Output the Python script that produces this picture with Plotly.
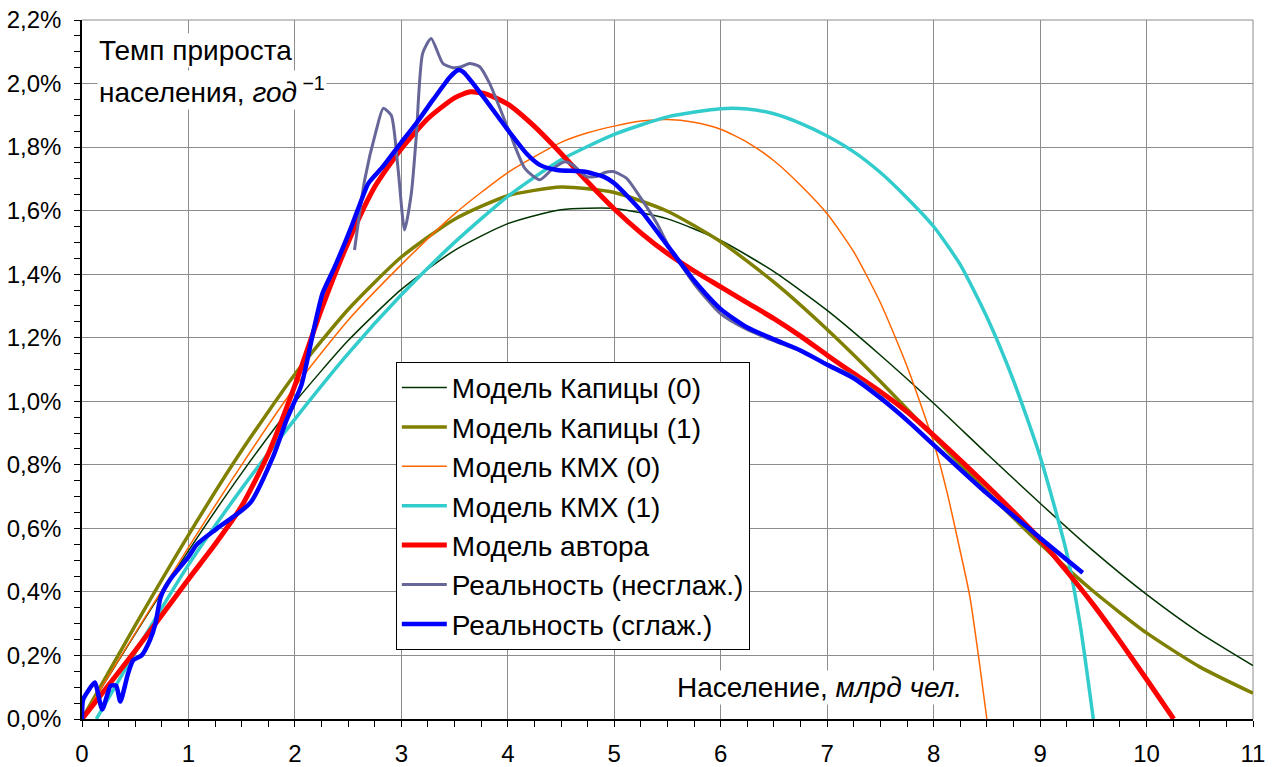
import plotly.graph_objects as go

# ---------------- data ----------------
kap0_x = [0, 0.5, 1, 1.5, 2, 2.5, 3, 3.5, 4, 4.5, 5, 5.5, 6, 6.5, 7, 7.5, 8, 8.5, 9, 9.5, 10, 10.5, 11]
kap0_y = [0, 0.268, 0.529, 0.774, 0.997, 1.191, 1.352, 1.475, 1.559, 1.603, 1.607, 1.574, 1.506, 1.408,
          1.286, 1.145, 0.994, 0.835, 0.679, 0.529, 0.392, 0.271, 0.168]

kap1_x = [0, 0.5, 1, 1.5, 2, 2.5, 3, 3.5, 4, 4.5, 5, 5.5, 6, 6.5, 7, 7.5, 8, 8.5, 9, 9.5, 10, 10.5, 11]
kap1_y = [0, 0.295, 0.579, 0.845, 1.085, 1.289, 1.454, 1.573, 1.647, 1.674, 1.657, 1.598, 1.502, 1.375,
          1.226, 1.062, 0.888, 0.716, 0.552, 0.402, 0.271, 0.164, 0.081]

kmh0_x = [0, 0.5, 1.0, 1.5, 2.0, 2.5, 3.0, 3.5, 4.0, 4.5, 4.75, 5.0, 5.25, 5.5, 5.75, 6.0, 6.25, 6.5,
          6.75, 7.0, 7.25, 7.5, 7.75, 8.0, 8.12, 8.24, 8.34, 8.43, 8.5]
kmh0_y = [0, 0.27, 0.54, 0.80, 1.045, 1.255, 1.43, 1.59, 1.72, 1.815, 1.845, 1.866, 1.882, 1.887, 1.878,
          1.856, 1.815, 1.757, 1.68, 1.59, 1.47, 1.31, 1.11, 0.87, 0.722, 0.543, 0.386, 0.177, 0.0]

kmh1_x = [0.135, 0.5, 1.0, 1.5, 2.0, 2.5, 3.0, 3.5, 4.0, 4.5, 5.0, 5.5, 6.0, 6.25, 6.5, 6.75, 7.0, 7.25,
          7.5, 7.75, 8.0, 8.25, 8.5, 8.75, 9.0, 9.25, 9.375, 9.5]
kmh1_y = [0, 0.21, 0.485, 0.725, 0.944, 1.15, 1.335, 1.50, 1.645, 1.76, 1.84, 1.895, 1.921, 1.92, 1.905,
          1.875, 1.835, 1.785, 1.72, 1.64, 1.55, 1.43, 1.265, 1.065, 0.826, 0.523, 0.30, 0.0]

auth_x = [0, 0.5, 1.0, 1.25, 1.5, 1.75, 2.0, 2.25, 2.5, 2.75, 3.0, 3.25, 3.5, 3.65, 3.8, 4.0, 4.25, 4.5,
          4.75, 5.0, 5.25, 5.5, 5.75, 6.0, 6.25, 6.5, 6.75, 7.0, 7.25, 7.5, 7.75, 8.0, 8.25, 8.5, 8.75,
          9.0, 9.25, 9.5, 9.75, 10.0, 10.255]
auth_y = [0, 0.215, 0.44, 0.55, 0.67, 0.835, 1.05, 1.29, 1.50, 1.675, 1.795, 1.89, 1.955, 1.974, 1.967,
          1.935, 1.865, 1.78, 1.69, 1.605, 1.53, 1.465, 1.41, 1.36, 1.31, 1.26, 1.205, 1.145, 1.087, 1.03,
          0.967, 0.893, 0.815, 0.735, 0.652, 0.565, 0.465, 0.36, 0.245, 0.125, 0.0]

raw_x = [2.56, 2.655, 2.765, 2.83, 2.905, 2.97, 3.03, 3.094, 3.14, 3.2, 3.28, 3.39, 3.485, 3.564, 3.64,
         3.736, 3.83, 3.92, 4.02, 4.16, 4.3, 4.425, 4.535, 4.61, 4.74, 4.83, 4.91, 4.99, 5.114, 5.24, 5.4,
         5.5, 5.75, 6.0, 6.25, 6.5, 6.75, 7.0, 7.25, 7.5, 7.75, 8.0, 8.5, 9.0, 9.4]
raw_y = [1.476, 1.696, 1.854, 1.922, 1.90, 1.728, 1.539, 1.655, 1.833, 2.095, 2.142, 2.063, 2.05, 2.053,
         2.063, 2.053, 2.0, 1.927, 1.843, 1.733, 1.697, 1.733, 1.754, 1.744, 1.707, 1.707, 1.72, 1.723,
         1.702, 1.644, 1.56, 1.495, 1.37, 1.275, 1.225, 1.19, 1.158, 1.117, 1.078, 1.015, 0.94, 0.863,
         0.71, 0.57, 0.46]

smooth_x = [0.0, 0.01, 0.06, 0.12, 0.19, 0.27, 0.32, 0.36, 0.43, 0.48, 0.56, 0.64, 0.69, 0.74, 0.83, 1.0,
            1.08, 1.27, 1.58, 1.8, 1.92, 2.06, 2.11, 2.17, 2.26, 2.37, 2.52, 2.61, 2.69, 2.83, 3.0, 3.14,
            3.3, 3.455, 3.53, 3.58, 3.77, 3.92, 4.0, 4.175, 4.3, 4.46, 4.71, 4.9, 5.0, 5.25, 5.5, 5.75,
            6.0, 6.25, 6.5, 6.75, 7.0, 7.25, 7.5, 7.75, 8.0, 8.5, 9.0, 9.4]
smooth_y = [0.0, 0.06, 0.09, 0.115, 0.03, 0.105, 0.105, 0.055, 0.14, 0.185, 0.2, 0.25, 0.3, 0.385, 0.44,
            0.51, 0.55, 0.6, 0.68, 0.83, 0.94, 1.05, 1.12, 1.215, 1.34, 1.42, 1.54, 1.62, 1.686, 1.74,
            1.815, 1.875, 1.95, 2.02, 2.042, 2.037, 1.958, 1.89, 1.854, 1.78, 1.744, 1.728, 1.723, 1.707,
            1.686, 1.60, 1.49, 1.38, 1.29, 1.232, 1.195, 1.16, 1.115, 1.072, 1.01, 0.94, 0.863, 0.71,
            0.57, 0.46]

x_ticks = list(range(0, 12))
y_ticks = [0, 0.2, 0.4, 0.6, 0.8, 1.0, 1.2, 1.4, 1.6, 1.8, 2.0, 2.2]
y_tick_text = ["0,0%", "0,2%", "0,4%", "0,6%", "0,8%", "1,0%", "1,2%", "1,4%", "1,6%", "1,8%", "2,0%", "2,2%"]

names = ["Модель Капицы (0)", "Модель Капицы (1)", "Модель КМХ (0)", "Модель КМХ (1)",
         "Модель автора", "Реальность (несглаж.)", "Реальность (сглаж.)"]

# ---------------- figure ----------------
FONT = "Liberation Sans, Arial, sans-serif"
fig = go.Figure()

series = [
    (kap0_x, kap0_y, "#003300", 1.5),
    (kap1_x, kap1_y, "#808000", 3.5),
    (kmh0_x, kmh0_y, "#FF6600", 1.5),
    (kmh1_x, kmh1_y, "#33CCCC", 3.5),
    (auth_x, auth_y, "#FF0000", 5),
    (raw_x, raw_y, "#666699", 3),
    (smooth_x, smooth_y, "#0000FF", 4.5),
]
for i, (xs, ys, col, w) in enumerate(series):
    fig.add_trace(go.Scatter(
        x=xs, y=ys, mode="lines", name=names[i], legendgroup=str(i),
        line=dict(color=col, width=w, shape="spline", smoothing=0.6),
        hoverinfo="skip"))

grid = "#8c8c8c"
fig.update_xaxes(
    range=[0, 11], tickvals=x_ticks, ticktext=[str(v) for v in x_ticks],
    showgrid=True, gridcolor=grid, gridwidth=1,
    showline=True, linecolor="black", linewidth=1.5,
    ticks="outside", ticklen=6, tickcolor="black", tickwidth=1,
    minor=dict(dtick=0.25, ticks="outside", ticklen=6, tickcolor="black", showgrid=False),
    tickfont=dict(family=FONT, size=24, color="black"), ticklabelstandoff=6,
    zeroline=False, fixedrange=True, automargin=False)
fig.update_yaxes(
    range=[0, 2.2], tickvals=y_ticks, ticktext=y_tick_text,
    showgrid=True, gridcolor=grid, gridwidth=1,
    showline=True, linecolor="black", linewidth=1.5,
    ticks="outside", ticklen=6, tickcolor="black", tickwidth=1,
    minor=dict(dtick=0.05, ticks="outside", ticklen=6, tickcolor="black", showgrid=False),
    tickfont=dict(family=FONT, size=24, color="black"), ticklabelstandoff=8,
    zeroline=False, fixedrange=True, automargin=False)

# frame lines at top / right (grid-coloured)
fig.add_shape(type="line", xref="paper", yref="paper", x0=0, x1=1, y0=1, y1=1,
              line=dict(color=grid, width=1), layer="below")
fig.add_shape(type="line", xref="paper", yref="paper", x0=1, x1=1, y0=0, y1=1,
              line=dict(color=grid, width=1), layer="below")

fig.add_annotation(xref="paper", yref="paper", x=0.0128, y=0.956, xanchor="left", yanchor="middle",
                   text="Темп прироста", showarrow=False, bgcolor="white",
                   font=dict(family=FONT, size=28, color="black"))
fig.add_annotation(xref="paper", yref="paper", x=0.0128, y=0.900, xanchor="left", yanchor="middle",
                   text="населения, <i>год</i><sup> −1</sup>", showarrow=False, bgcolor="white",
                   font=dict(family=FONT, size=28, color="black"))
fig.add_annotation(xref="paper", yref="paper", x=0.753, y=0.045, xanchor="right", yanchor="middle",
                   text="Население, <i>млрд чел.</i>", showarrow=False, bgcolor="white",
                   font=dict(family=FONT, size=28, color="black"))

fig.update_layout(
    width=1277, height=767,
    margin=dict(l=82, r=24, t=20, b=48),
    paper_bgcolor="white", plot_bgcolor="white",
    showlegend=True,
    legend=dict(x=0.268, y=0.511, xanchor="left", yanchor="top",
                bgcolor="white", bordercolor="black", borderwidth=1,
                font=dict(family=FONT, size=28, color="black"),
                traceorder="normal", itemwidth=45, tracegroupgap=0),
    font=dict(family=FONT),
)

fig.write_html("out.html")
